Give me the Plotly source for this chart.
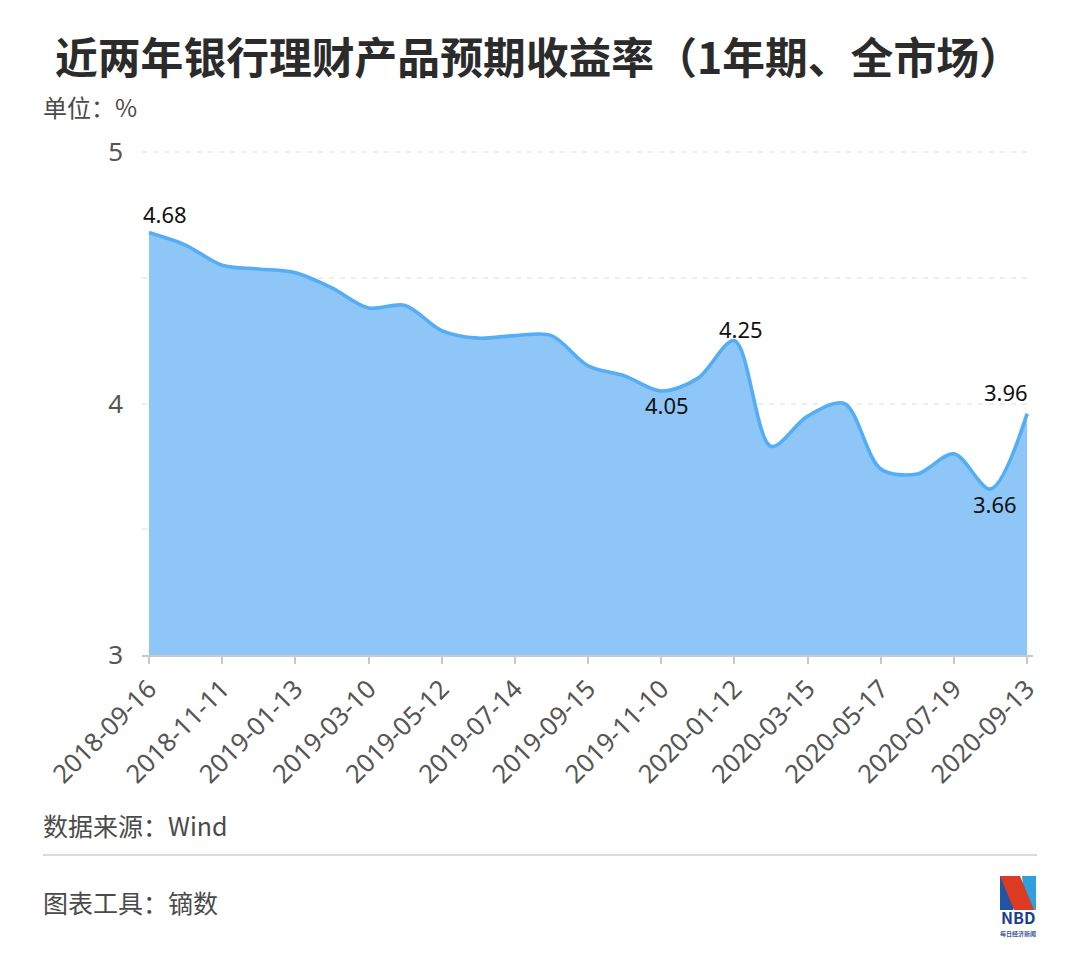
import plotly.graph_objects as go

W, H = 1072, 951      # the page adds an 8 px body margin around the figure
L, R, T, B = 134, 47, 139, 304
CJK = "Noto Sans CJK SC"
LATIN = "Noto Sans, Noto Sans CJK SC"

dates = ["2018-09-16", "2018-10-14", "2018-11-11", "2018-12-09", "2019-01-13",
         "2019-02-10", "2019-03-10", "2019-04-14", "2019-05-12", "2019-06-16",
         "2019-07-14", "2019-08-18", "2019-09-15", "2019-10-13", "2019-11-10",
         "2019-12-08", "2020-01-12", "2020-02-09", "2020-03-15", "2020-04-19",
         "2020-05-17", "2020-06-14", "2020-07-19", "2020-08-16", "2020-09-13"]
values = [4.68, 4.63, 4.55, 4.535, 4.52, 4.46, 4.38, 4.39, 4.29, 4.26,
          4.27, 4.27, 4.15, 4.11, 4.05, 4.10, 4.25, 3.83, 3.95, 4.00,
          3.74, 3.72, 3.80, 3.66, 3.96]
tick_dates = dates[::2]
y_ticks = [3, 3.5, 4, 4.5, 5]
y_labels = ["3", "", "4", "", "5"]
callouts = [("2018-09-16", 4.68, 16, 19), ("2020-01-12", 4.25, 7, 12),
            ("2019-11-10", 4.05, 6, -14), ("2020-09-13", 3.96, -21, 22),
            ("2020-08-16", 3.66, 4, -15)]

# page pixels -> paper coordinates of the plot area
def px(x): return (x - 8 - L) / (W - L - R)
def py(y): return 1 - (y - 8 - T) / (H - T - B)

fig = go.Figure()
fig.add_trace(go.Scatter(
    x=dates, y=values, mode="lines", fill="tozeroy", fillcolor="#8DC6F7",
    line=dict(color="#55ADF5", width=3.6, shape="spline", smoothing=0.9),
    hoverinfo="x+y", showlegend=False))

annotations = [dict(x=d, y=v, xref="x", yref="y", text=f"{v:.2f}", showarrow=False,
                    xshift=dx, yshift=dy, font=dict(family=LATIN, size=22, color="#111111"))
               for d, v, dx, dy in callouts]

def note(x, y, text, size, color="#4a4a4a", anchor="left", weight=None):
    t = f"<b>{text}</b>" if weight else text
    annotations.append(dict(x=px(x), y=py(y), xref="paper", yref="paper", text=t, showarrow=False,
                            xanchor=anchor, yanchor="middle",
                            font=dict(family=CJK, size=size, color=color)))

note(538, 55, "近两年银行理财产品预期收益率（1年期、全市场）", 42.8, "#2b2b2b", "center", True)
note(41, 107, "单位：%", 24)
note(41, 825, "数据来源：Wind", 25)
note(41, 902, "图表工具：镝数", 25)
note(1018, 917, "NBD", 16, "#17418f", "center", True)
note(1018, 933, "每日经济新闻", 6, "#3a5a9a", "center", True)

def path(points):
    return "M " + " L ".join(f"{px(a):.5f},{py(b):.5f}" for a, b in points) + " Z"

shapes = [
    dict(type="line", xref="paper", yref="paper", x0=px(43), x1=px(1037), y0=py(855), y1=py(855),
         line=dict(color="#cfcfcf", width=1.5)),
    dict(type="path", xref="paper", yref="paper", path=path([(1000, 876), (1011, 876), (1018, 892), (1013, 910), (1000, 910)]),
         fillcolor="#1f55a5", line=dict(width=0)),
    dict(type="path", xref="paper", yref="paper", path=path([(1022, 876), (1036, 876), (1036, 910), (1028, 910), (1024, 898)]),
         fillcolor="#2f9fe0", line=dict(width=0)),
    dict(type="path", xref="paper", yref="paper", path=path([(1000, 876), (1020, 876), (1034, 910), (1014, 910)]),
         fillcolor="#dc3a22", line=dict(width=0)),
]

fig.update_layout(
    width=W, height=H, margin=dict(l=L, r=R, t=T, b=B, autoexpand=False),
    paper_bgcolor="white", plot_bgcolor="white", showlegend=False,
    annotations=annotations, shapes=shapes,
    xaxis=dict(type="category", categoryorder="array", categoryarray=dates,
               range=[-0.19, 24.16], tickmode="array", tickvals=tick_dates, ticktext=tick_dates,
               tickangle=-45, ticks="outside", ticklen=7, tickwidth=1.5, tickcolor="#c8c8c8",
               showline=True, linecolor="#c8c8c8", linewidth=1.5, showgrid=False, zeroline=False,
               tickfont=dict(family=LATIN, size=25.5, color="#555555")),
    yaxis=dict(range=[3, 5.02], tickmode="array", tickvals=y_ticks, ticktext=y_labels,
               showgrid=True, gridcolor="#eeeeee", griddash="5px,6px", gridwidth=1.5,
               zeroline=False, showline=False, ticks="", ticklabelstandoff=18,
               tickfont=dict(family=LATIN, size=26, color="#555555")),
)

fig.write_html("out.html")
